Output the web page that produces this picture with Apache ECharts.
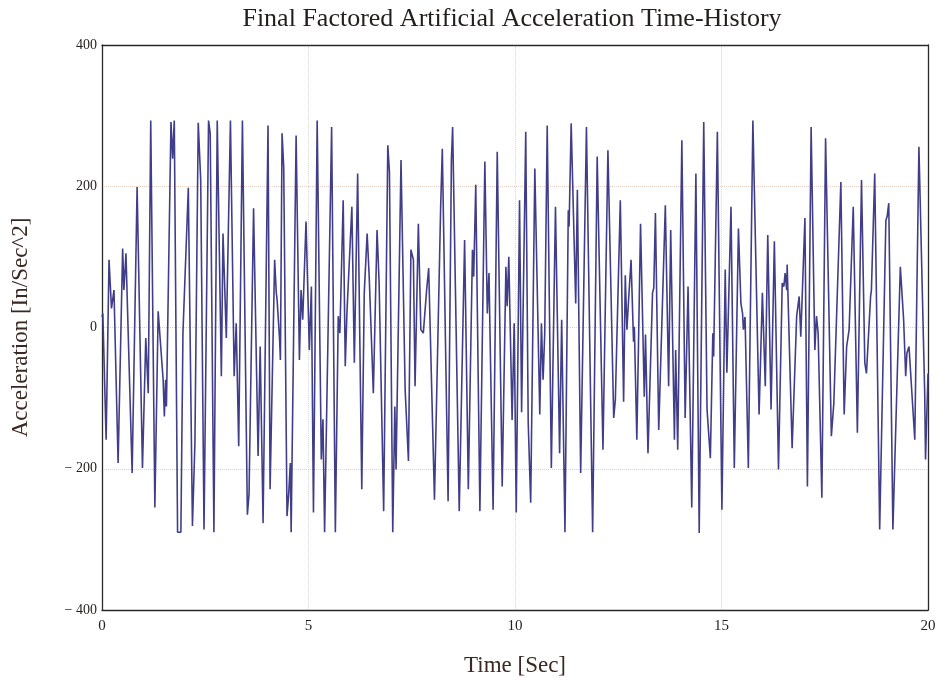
<!DOCTYPE html>
<html>
<head>
<meta charset="utf-8">
<title>Final Factored Artificial Acceleration Time-History</title>
<script src="https://cdn.jsdelivr.net/npm/echarts@6/dist/echarts.min.js"></script>
<style>
  html, body { margin: 0; padding: 0; background: #fff; }
  #chart { width: 945px; height: 684px; }
</style>
</head>
<body>
<div id="chart"></div>
<script>
// time [sec] of the turning points
var timeSec = [
  0, 0.02, 0.10, 0.17, 0.23, 0.29, 0.39, 0.50, 0.53, 0.58, 0.73, 0.85, 0.98, 1.06, 1.12, 1.18,
  1.28, 1.36, 1.48, 1.51, 1.54, 1.56, 1.67, 1.71, 1.75, 1.83, 1.91, 1.96,
  2.09, 2.19, 2.25, 2.33, 2.39, 2.47, 2.58, 2.62, 2.71, 2.79, 2.83, 2.89, 2.93, 3.01, 3.11,
  3.20, 3.25, 3.31, 3.40, 3.52, 3.56, 3.67, 3.78, 3.83, 3.90, 4.02, 4.07,
  4.18, 4.22, 4.24, 4.30, 4.32, 4.36, 4.40, 4.48, 4.52, 4.56, 4.58, 4.70, 4.78, 4.82, 4.86,
  4.94, 5.02, 5.07, 5.12, 5.21, 5.31, 5.35, 5.39, 5.56, 5.65, 5.72, 5.76, 5.84, 5.89, 5.93,
  6.05, 6.11,
  6.19, 6.29, 6.35, 6.42, 6.47, 6.57, 6.66, 6.71, 6.82, 6.92, 6.96, 7.04, 7.09, 7.12, 7.24,
  7.34, 7.42, 7.48, 7.54, 7.58, 7.66, 7.72, 7.78, 7.86, 7.91, 8.05,
  8.20, 8.24, 8.38, 8.46, 8.49, 8.65, 8.78, 8.87, 8.97, 9.00, 9.05, 9.15, 9.27, 9.33, 9.37,
  9.47, 9.57, 9.69, 9.78, 9.81, 9.85, 9.93, 9.98, 10.03, 10.11, 10.16, 10.26,
  10.32, 10.38, 10.48, 10.60, 10.64, 10.68, 10.72, 10.78, 10.88, 10.98, 11.08, 11.13, 11.21,
  11.29, 11.31, 11.36, 11.47, 11.51, 11.59, 11.73, 11.88, 11.99, 12.13, 12.25,
  12.39, 12.43, 12.55, 12.63, 12.67, 12.71, 12.75, 12.81, 12.87, 12.89, 12.95, 13.04, 13.13,
  13.16, 13.22, 13.33, 13.36, 13.40, 13.48, 13.64, 13.72, 13.77, 13.86, 13.89, 13.94, 14.04,
  14.12, 14.19, 14.28,
  14.38, 14.46, 14.57, 14.65, 14.73, 14.79, 14.81, 14.90, 15.01, 15.09, 15.13, 15.23, 15.31,
  15.41, 15.47, 15.51, 15.53, 15.57, 15.65, 15.76, 15.91, 15.99, 16.06, 16.12, 16.20, 16.28, 16.38,
  16.47, 16.51, 16.54, 16.58, 16.59, 16.71, 16.82, 16.88, 16.92, 17.02, 17.08, 17.17, 17.26,
  17.30, 17.34, 17.43, 17.52, 17.66, 17.72, 17.89, 17.97, 18.03, 18.09, 18.19, 18.29, 18.39,
  18.47, 18.51, 18.61, 18.63, 18.71, 18.83, 18.98, 19.01, 19.05, 19.15, 19.33, 19.41, 19.46,
  19.49, 19.54, 19.68, 19.78, 19.92, 19.94, 20
];

// acceleration [in/sec^2] at those times
var accel = [
  15, 20, -159, 96, 27, 53, -192, 112, 53, 105, -206, 199, -199, -15, -93, 293,
  -255, 23, -74, -126, -74, -112, 291, 239, 293, -290, -290, -8,
  198, -281, -163, 290, 209, -286, 293, 275, -290, 293, 293, -69, 133, -15, 293,
  -69, 6, -168, 293, -265, -236, 169, -182, -27, -277, 286, -229,
  96, 49, 39, -17, -46, 275, 227, -267, -236, -192, -290, 272, -46, 53, 11,
  150, -32, 58, -262, 293, -187, -130, -290, 284, -290, 16, -8, 180, -55, 20,
  171, -50,
  218, -229, 49, 133, 72, -93, 138, 63, -260, 258, 220, -290, -112, -201, 237,
  -88, -189, 110, 96, -83, 147, -3, -8, 53, 84, -244,
  171, 253, -246, 237, 284, -260, 124, -229, 110, 72, 202, -260, 235, 20, 77,
  -258, 249, -225, 86, 30, 100, -131, 6, -262, 180, -120, 277,
  -135, -248, 225, -123, 6, -74, -8, 286, -199, 171, -178, 11, -290,
  166, 143, 289, 34, 195, -206, 284, -290, 242, -173, 251,
  -128, -102, 180, -105, 74, -3, 39, 96, -20, 1, -159, 147, -98,
  -10, -178, 49, 56, 162, -145, 173, -83, 138, -159, -32, -173, 265,
  -128, 58, -255,
  218, -291, 291, -116, -185, -8, -41, 277, -258, 82, -64, 171, -199,
  140, 34, 20, -3, 15, -199, 293, -123, 49, -83, 131, -116, 122, -201,
  63, 58, 77, 53, 89, -171, 16, 44, -13, 155, -225, 284, -32,
  16, -8, -241, 268, -154, -107, 206, -123, -27, -3, 171, -149, 209,
  -50, -65, 44, 53, 218, -286, 152, 157, 176, -286, 86, 11, -69,
  -36, -27, -159, 256, -93, -187, -65
];

var xTicks = [0, 5, 10, 15, 20];
var yTicks = [-400, -200, 0, 200, 400];

var points = timeSec.map(function (t, i) { return [t, accel[i]]; });

var serif = '"Liberation Serif", "DejaVu Serif", serif';
var frame = { show: true, onZero: false, lineStyle: { color: '#2a2a2a', width: 1.3 } };
var chart = echarts.init(document.getElementById('chart'));

chart.setOption({
  animation: false,
  backgroundColor: '#ffffff',
  title: {
    text: 'Final Factored Artificial Acceleration Time-History',
    left: 507,
    textAlign: 'center',
    top: 1,
    textStyle: {
      fontFamily: serif,
      fontSize: 26,
      fontWeight: 'normal',
      color: '#221e1b'
    }
  },
  grid: {
    left: 102,
    right: 17,
    top: 45,
    bottom: 74
  },
  xAxis: [{
    type: 'value',
    min: xTicks[0],
    max: xTicks[xTicks.length - 1],
    interval: 5,
    name: 'Time [Sec]',
    nameLocation: 'middle',
    nameGap: 44,
    nameTextStyle: { fontFamily: serif, fontSize: 23, color: '#3a2822' },
    axisLine: frame,
    axisTick: { show: false },
    axisLabel: { fontFamily: serif, fontSize: 15, color: '#221e1b', margin: 9 },
    splitLine: { show: true, lineStyle: { color: '#d8d8d8', type: 'dotted', width: 1 } }
  }, {
    type: 'value',
    position: 'top',
    min: xTicks[0],
    max: xTicks[xTicks.length - 1],
    interval: 5,
    axisLine: frame,
    axisTick: { show: false },
    axisLabel: { show: false },
    splitLine: { show: false }
  }],
  yAxis: [{
    type: 'value',
    min: yTicks[0],
    max: yTicks[yTicks.length - 1],
    interval: 200,
    name: 'Acceleration [In/Sec^2]',
    nameLocation: 'middle',
    nameRotate: 90,
    nameGap: 70,
    nameTextStyle: { fontFamily: serif, fontSize: 23, color: '#3a2822' },
    axisLine: frame,
    axisTick: { show: false },
    axisLabel: {
      fontFamily: serif,
      fontSize: 14,
      color: '#221e1b',
      margin: 5,
      formatter: function (v) { return v < 0 ? '\u2212 ' + Math.abs(v) : String(v); }
    },
    splitLine: { show: true, lineStyle: { color: '#e3cfc2', type: 'dotted', width: 1 } }
  }, {
    type: 'value',
    position: 'right',
    min: yTicks[0],
    max: yTicks[yTicks.length - 1],
    interval: 200,
    axisLine: frame,
    axisTick: { show: false },
    axisLabel: { show: false },
    splitLine: { show: false }
  }],
  series: [{
    type: 'line',
    data: points,
    showSymbol: false,
    smooth: false,
    lineStyle: { color: '#403e88', width: 1.6 },
    z: 3
  }]
});
</script>
</body>
</html>
